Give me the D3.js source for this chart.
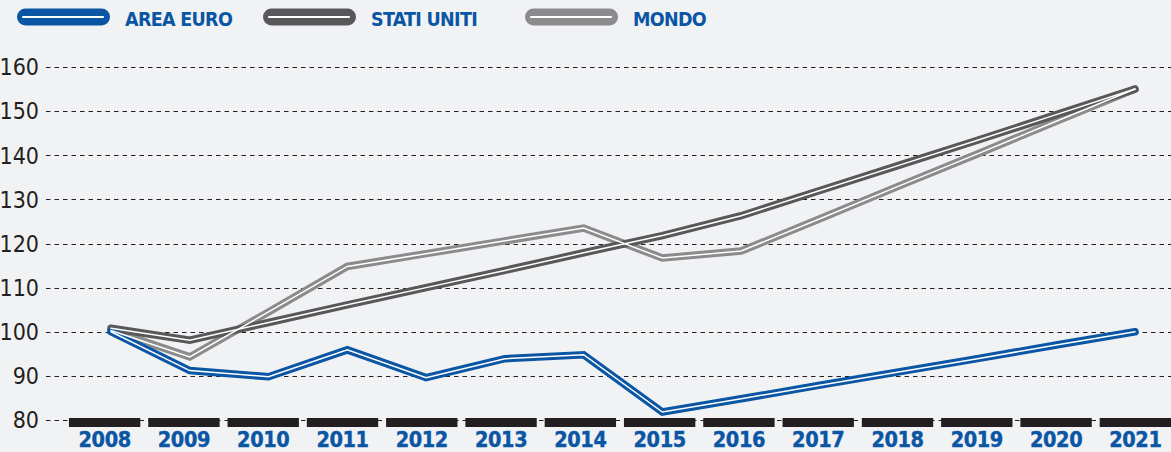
<!DOCTYPE html>
<meta charset="utf-8">
<style>
html, body { margin: 0; padding: 0; background: #f1f2f4; }
svg { display: block; }
.legend text {
  font-family: "DejaVu Sans Condensed", "DejaVu Sans", sans-serif;
  font-weight: 700;
  font-size: 19.5px;
  letter-spacing: -0.7px;
  fill: #0a56a4;
}
.axis--y text {
  font-family: "Liberation Sans Narrow", "DejaVu Sans Condensed", sans-serif;
  font-size: 23px;
  fill: #231f20;
}
.axis--x text {
  font-family: "DejaVu Sans Condensed", "DejaVu Sans", sans-serif;
  font-weight: 700;
  font-size: 21.5px;
  letter-spacing: -0.4px;
  fill: #0a56a4;
  stroke: #0a56a4;
  stroke-width: 0.4px;
}
</style>
<svg id="chart"></svg>
<script src="https://d3js.org/d3.v7.min.js"></script>
<script>

// DATA
const years = [2008, 2009, 2010, 2011, 2012, 2013, 2014, 2015, 2016, 2017, 2018, 2019, 2020, 2021];
const areaEuro   = [100.0, 91.2, 89.8, 95.9, 89.6, 93.9, 94.8, 81.8, 84.8, 87.9, 90.9, 93.9, 97.0, 100.0];
const statiUniti = [100.8, 98.1, 102.1, 106.1, 110.0, 113.9, 117.9, 121.8, 126.3, 132.0, 137.7, 143.4, 149.2, 155.0];
const mondo      = [100.3, 94.3, 104.5, 114.8, 117.7, 120.6, 123.5, 116.7, 118.3, 125.6, 133.0, 140.3, 147.7, 155.0];
const seriesNames = ["AREA EURO", "STATI UNITI", "MONDO"];
const yTicks = [80, 90, 100, 110, 120, 130, 140, 150, 160];

const W = 1171, H = 452;
const colors = ["#0a56a4", "#58585a", "#8b8b8d"];

const svg = d3.select("#chart").attr("width", W).attr("height", H);

svg.append("rect").attr("width", W).attr("height", H).attr("fill", "#f1f2f4");

// scales
const x = d3.scaleBand()
  .domain(years)
  .range([65, 1175])
  .paddingInner(0.1)
  .paddingOuter(0.05);

const xp = d3.scalePoint()
  .domain(years)
  .range([111, 1135]);

const y = d3.scaleLinear()
  .domain([80, 160])
  .range([420, 67]);

// grid + y labels
const gy = svg.append("g").attr("class", "axis axis--y");

gy.selectAll("line")
  .data(yTicks)
  .enter().append("line")
  .attr("x1", 46)
  .attr("x2", W)
  .attr("y1", d => Math.round(y(d)) + 0.5)
  .attr("y2", d => Math.round(y(d)) + 0.5)
  .attr("stroke", "#231f20")
  .attr("stroke-width", 1.1)
  .attr("stroke-dasharray", "4.5,4");

gy.selectAll("text")
  .data(yTicks)
  .enter().append("text")
  .attr("x", 39)
  .attr("y", d => y(d))
  .attr("dy", "0.36em")
  .attr("text-anchor", "end")
  .text(d => d);

// x axis: black bars + year labels
const gx = svg.append("g").attr("class", "axis axis--x");

gx.selectAll("rect")
  .data(years)
  .enter().append("rect")
  .attr("x", d => x(d))
  .attr("y", 418)
  .attr("width", x.bandwidth())
  .attr("height", 9)
  .attr("fill", "#231f20");

gx.selectAll("text")
  .data(years)
  .enter().append("text")
  .attr("x", d => x(d) + x.bandwidth() / 2)
  .attr("y", 447)
  .attr("text-anchor", "middle")
  .text(d => d);

// lines
const series = [areaEuro, statiUniti, mondo];
const line = d3.line()
  .x((d, i) => xp(years[i]))
  .y(d => y(d));

const order = [2, 1, 0];

svg.append("g").selectAll("path")
  .data(order)
  .enter().append("path")
  .attr("d", i => line(series[i]))
  .attr("fill", "none")
  .attr("stroke", i => colors[i])
  .attr("stroke-width", 7.5)
  .attr("stroke-linecap", "round")
  .attr("stroke-linejoin", "miter");

svg.append("g").selectAll("path")
  .data(order)
  .enter().append("path")
  .attr("d", i => line(series[i]))
  .attr("fill", "none")
  .attr("stroke", "#ffffff")
  .attr("stroke-width", 1.5)
  .attr("stroke-linecap", "round")
  .attr("stroke-linejoin", "miter");

// legend
const legendX = [17, 263, 525];
const lg = svg.append("g").attr("class", "legend");

const item = lg.selectAll("g")
  .data(seriesNames)
  .enter().append("g")
  .attr("transform", (d, i) => "translate(" + legendX[i] + ",0)");

item.append("line")
  .attr("x1", 8.5).attr("x2", 84.5)
  .attr("y1", 17).attr("y2", 17)
  .attr("stroke", (d, i) => colors[i])
  .attr("stroke-width", 17)
  .attr("stroke-linecap", "round");

item.append("line")
  .attr("x1", 6).attr("x2", 86)
  .attr("y1", 17).attr("y2", 17)
  .attr("stroke", "#ffffff")
  .attr("stroke-width", 2.2)
  .attr("stroke-linecap", "round");

item.append("text")
  .attr("x", 108)
  .attr("y", 26)
  .text(d => d);

</script>
